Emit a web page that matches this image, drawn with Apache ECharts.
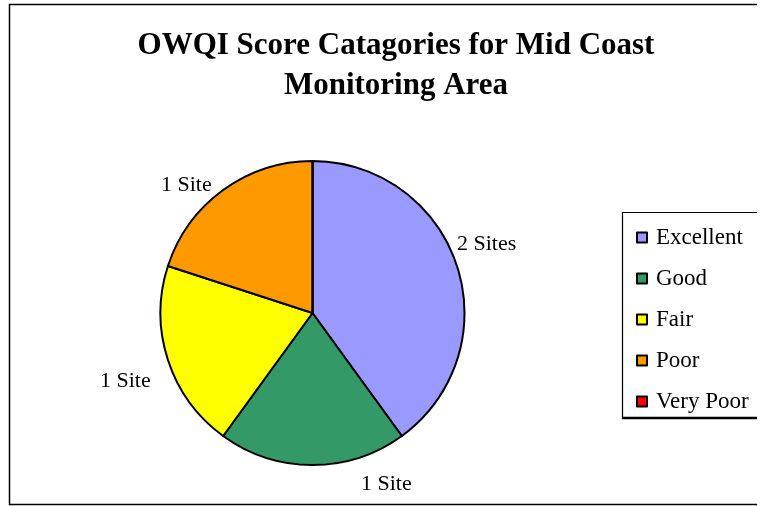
<!DOCTYPE html>
<html>
<head>
<meta charset="utf-8">
<script src="https://cdn.jsdelivr.net/npm/echarts@6/dist/echarts.min.js"></script>
<style>
  html, body { margin: 0; padding: 0; background: #fff; }
  #chart { width: 769px; height: 506px; }
</style>
</head>
<body>
<div id="chart"></div>
<script>
const categories = ["Excellent", "Good", "Fair", "Poor", "Very Poor"];
const siteCounts = [2, 1, 1, 1, 0];
const sliceColors = ["#9999FF", "#339966", "#FFFF00", "#FF9900", "#FF0000"];
const titleText = "OWQI Score Catagories for Mid Coast\nMonitoring Area";

// where Excel put each data label (left edge, middle y)
const labelSpots = [[457, 244], [361, 484], [100, 381], [161, 185], [0, -100]];

const chart = echarts.init(document.getElementById("chart"));
const serif = "'Liberation Serif', 'Times New Roman', serif";

chart.setOption({
  animation: false,
  title: {
    text: titleText,
    left: 391,
    top: 21,
    textAlign: "center",
    textStyle: { fontFamily: serif, fontWeight: "bold", fontSize: 31, lineHeight: 40, color: "#000" }
  },
  legend: {
    orient: "vertical",
    left: 631,
    top: 221,
    itemWidth: 10,
    itemHeight: 10,
    itemGap: 18,
    icon: "rect",
    itemStyle: { borderColor: "#000", borderWidth: 2 },
    textStyle: { fontFamily: serif, fontSize: 23, color: "#000", padding: [0, 0, 0, 4] },
    data: categories
  },
  graphic: [
    { type: "polyline", shape: { points: [[757, 4.5], [9.5, 4.5], [9.5, 504.5], [757, 504.5]] },
      style: { stroke: "#000", lineWidth: 1.5, fill: null } },
    { type: "polyline", shape: { points: [[757, 212.5], [622.5, 212.5], [622.5, 417.5]] },
      style: { stroke: "#000", lineWidth: 1.2, fill: null } },
    { type: "line", shape: { x1: 622, y1: 418, x2: 757, y2: 418 },
      style: { stroke: "#000", lineWidth: 2.5 } }
  ],
  series: [{
    type: "pie",
    center: [312.5, 313],
    radius: 152,
    startAngle: 90,
    clockwise: true,
    stillShowZeroSum: true,
    silent: true,
    itemStyle: { borderColor: "#000", borderWidth: 2 },
    label: {
      show: true,
      position: "outside",
      fontFamily: serif,
      fontSize: 22,
      color: "#000",
      formatter: p => p.value === 0 ? "" : p.value + (p.value === 1 ? " Site" : " Sites")
    },
    labelLine: { show: false },
    labelLayout: p => ({
      x: labelSpots[p.dataIndex][0],
      y: labelSpots[p.dataIndex][1],
      align: "left",
      verticalAlign: "middle"
    }),
    data: categories.map((name, i) => ({ name, value: siteCounts[i], itemStyle: { color: sliceColors[i] } }))
  }]
});
</script>
</body>
</html>
